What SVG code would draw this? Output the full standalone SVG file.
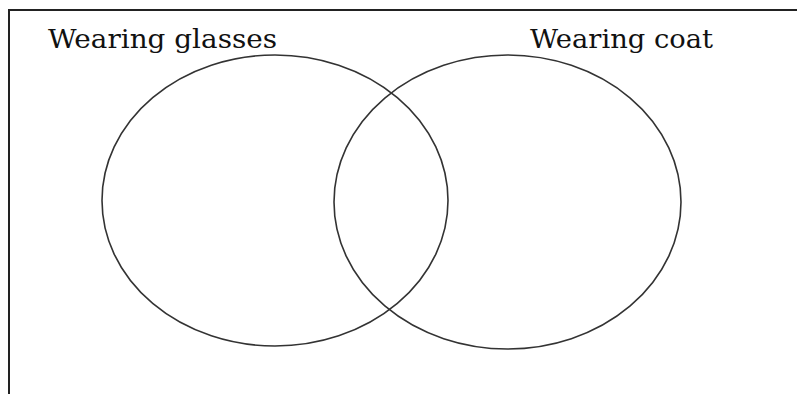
<svg xmlns="http://www.w3.org/2000/svg" width="797" height="394" viewBox="0 0 797 394">
<style>
.frame{fill:none;stroke:#222;stroke-width:2}
.set{fill:none;stroke:#333;stroke-width:1.6}
.lbl{font-family:"DejaVu Serif","Liberation Serif",serif;font-size:26px;fill:#111}
</style>
<rect width="797" height="394" fill="#fff"/>
<path class="frame" d="M9 394 V10 H797"/>
<g id="glasses">
<ellipse class="set" cx="275" cy="200.5" rx="173" ry="145.5"/>
<text class="lbl" x="48" y="48" textLength="229" lengthAdjust="spacingAndGlyphs">Wearing glasses</text>
</g>
<g id="coat">
<ellipse class="set" cx="507.5" cy="202" rx="173.5" ry="147"/>
<text class="lbl" x="530" y="48" textLength="183" lengthAdjust="spacingAndGlyphs">Wearing coat</text>
</g>
<g id="connectors"></g>
</svg>
